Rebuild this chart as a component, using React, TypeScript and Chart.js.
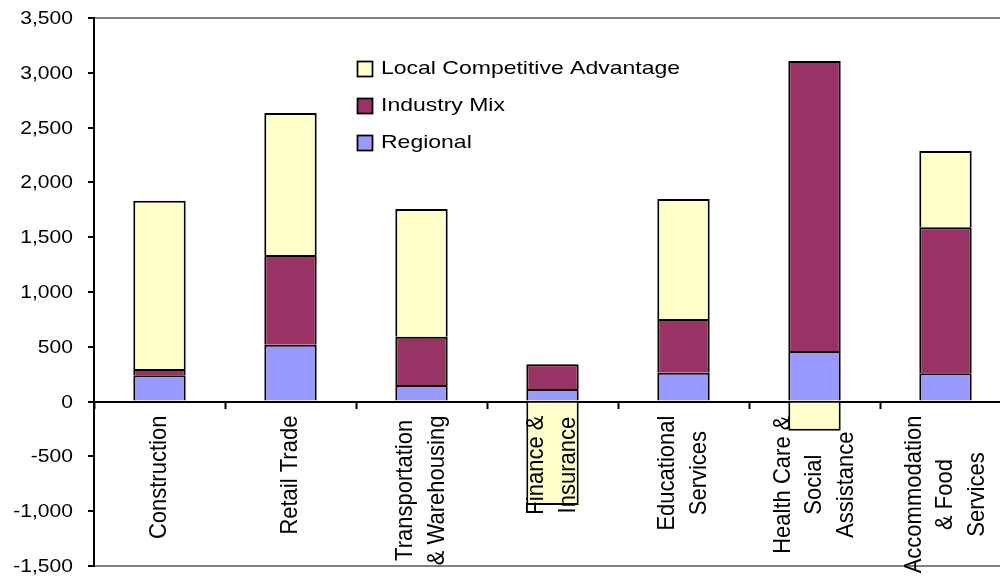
import React, { useEffect, useRef } from "react";
import { Chart, registerables } from "chart.js";

Chart.register(...registerables);

const categoryLines: string[][] = [
  ["Construction"],
  ["Retail Trade"],
  ["Transportation", "& Warehousing"],
  ["Finance &", "Insurance"],
  ["Educational", "Services"],
  ["Health Care &", "Social", "Assistance"],
  ["Accommodation", "& Food", "Services"],
];
const categories = categoryLines.map((l) => l.join(" "));

const regional = [240, 519, 151, 115, 264, 462, 258];
const industryMix = [57, 819, 441, 225, 490, 2646, 1332];
const localAdvantage = [1536, 1295, 1165, -943, 1095, -265, 696];

const seriesNames = ["Regional", "Industry Mix", "Local Competitive Advantage"];
const seriesColors = ["#9999FF", "#993366", "#FFFFCC"];

const yMin = -1500;
const yMax = 3500;
const yStep = 500;

const FONT = '"Liberation Sans", Arial, Helvetica, sans-serif';

const customPlugin = {
  id: "customText",
  afterDraw(chart: any) {
    const ctx: CanvasRenderingContext2D = chart.ctx;
    const xs = chart.scales.x;
    const ys = chart.scales.y;
    const y0 = ys.getPixelForValue(0);
    ctx.save();
    ctx.fillStyle = "#000";

    // y tick labels
    ctx.font = `18px ${FONT}`;
    ctx.textAlign = "right";
    ctx.textBaseline = "middle";
    ys.ticks.forEach((t: any) => {
      const py = ys.getPixelForValue(t.value);
      ctx.save();
      ctx.translate(73, py + 1);
      ctx.scale(1.17, 1);
      ctx.fillText(Number(t.value).toLocaleString("en-US"), 0, 0);
      ctx.restore();
    });

    // category labels
    ctx.font = `22px ${FONT}`;
    ctx.textAlign = "center";
    ctx.textBaseline = "middle";
    categoryLines.forEach((lines, i) => {
      const cx = xs.getPixelForValue(i);
      const maxW = Math.max(...lines.map((l) => ctx.measureText(l).width));
      const cy = y0 + 14 + maxW / 2;
      ctx.save();
      ctx.translate(cx, cy);
      ctx.rotate(-Math.PI / 2);
      ctx.scale(1, 1.08);
      lines.forEach((l, j) => {
        ctx.fillText(l, 0, ((j - (lines.length - 1) / 2) * 31.5) / 1.08);
      });
      ctx.restore();
    });

    // legend (reverse dataset order)
    const dsets = chart.data.datasets;
    const order = [2, 1, 0];
    order.forEach((di, k) => {
      const cy = 69 + k * 37;
      ctx.fillStyle = dsets[di].backgroundColor;
      ctx.fillRect(357.5, cy - 7.5, 15, 15);
      ctx.strokeStyle = "#000";
      ctx.lineWidth = 1.75;
      ctx.strokeRect(357.5, cy - 7.5, 15, 15);
      ctx.save();
      ctx.translate(381, cy);
      ctx.scale(1.21, 1);
      ctx.fillStyle = "#000";
      ctx.font = `19px ${FONT}`;
      ctx.textAlign = "left";
      ctx.textBaseline = "middle";
      ctx.fillText(dsets[di].label, 0, 0);
      ctx.restore();
    });
    ctx.restore();
  },
};

export default function App() {
  const canvasRef = useRef<HTMLCanvasElement | null>(null);

  useEffect(() => {
    if (!canvasRef.current) return;
    const chart = new Chart(canvasRef.current, {
      type: "bar",
      data: {
        labels: categories,
        datasets: [
          { label: seriesNames[0], data: regional, backgroundColor: seriesColors[0] },
          { label: seriesNames[1], data: industryMix, backgroundColor: seriesColors[1] },
          { label: seriesNames[2], data: localAdvantage, backgroundColor: seriesColors[2] },
        ].map((d) => ({
          ...d,
          borderColor: "#000",
          borderWidth: 2,
          barPercentage: 0.4,
          categoryPercentage: 1,
        })),
      },
      options: {
        animation: false,
        responsive: false,
        maintainAspectRatio: false,
        layout: { padding: { left: 0, right: 1, top: 18, bottom: 12 } },
        plugins: {
          legend: { display: false },
          tooltip: { enabled: false },
        },
        scales: {
          x: {
            stacked: true,
            position: { y: 0 } as any,
            z: 1,
            offset: true,
            afterFit: (scale: any) => {
              scale.height = 0;
            },
            ticks: { display: false },
            grid: {
              offset: true,
              drawOnChartArea: false,
              drawTicks: true,
              tickLength: 6,
              tickColor: "#000",
              tickWidth: 2,
            },
            border: { color: "#000", width: 2 },
          },
          y: {
            stacked: true,
            min: yMin,
            max: yMax,
            afterFit: (scale: any) => {
              scale.width = 94;
            },
            ticks: {
              stepSize: yStep,
              display: false,
            },
            grid: {
              drawOnChartArea: true,
              color: (c: any) =>
                c.tick && (c.tick.value === yMax || c.tick.value === yMin) ? "#808080" : "rgba(0,0,0,0)",
              lineWidth: 2,
              tickLength: 6,
              tickColor: "#000",
              tickWidth: 2,
            },
            border: { color: "#000", width: 2 },
          },
        },
      },
      plugins: [customPlugin],
    });
    return () => chart.destroy();
  }, []);

  return (
    <div
      style={{
        position: "absolute",
        left: 0,
        top: 0,
        width: 1000,
        height: 578,
        overflow: "hidden",
        background: "#fff",
      }}
    >
      <canvas ref={canvasRef} width={1012} height={578} style={{ width: 1012, height: 578, display: "block" }} />
    </div>
  );
}
